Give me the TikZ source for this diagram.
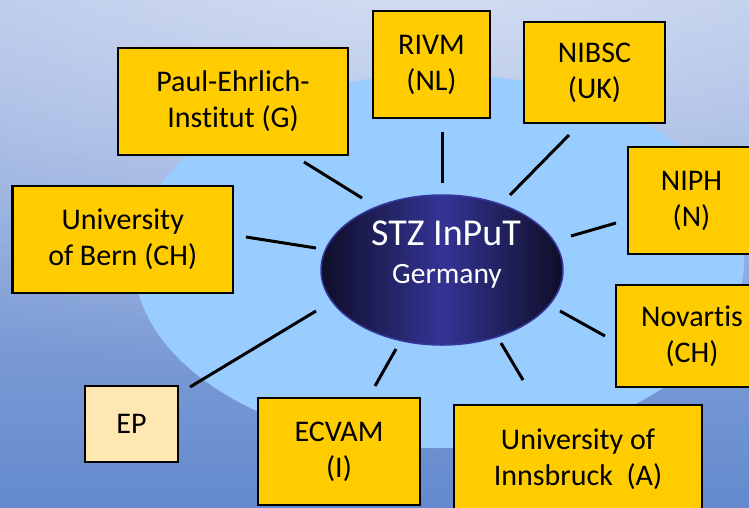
\documentclass[tikz,border=0pt]{standalone}
\usepackage{fontspec}
\setmainfont[Ligatures=NoCommon]{Carlito}
\usetikzlibrary{shapes.geometric,fadings}
\definecolor{bgtop}{RGB}{170,189,230}
\definecolor{bgbot}{RGB}{100,138,205}
\definecolor{halo}{RGB}{153,204,255}
\definecolor{boxy}{RGB}{255,204,0}
\definecolor{boxep}{RGB}{255,231,178}
\definecolor{hubedge}{RGB}{14,14,40}
\definecolor{hubmid}{RGB}{52,52,150}
\definecolor{hubrim}{RGB}{55,55,160}
\tikzfading[name=glowfade, inner color=transparent!0, outer color=transparent!100]
\begin{document}
\begin{tikzpicture}[x=1pt,y=-1pt,
  orgbox/.style={draw=black, line width=2.5pt, fill=boxy, rectangle, inner sep=0pt,
    align=center, font=\fontsize{30}{36}\selectfont},
  spoke/.style={draw=black, line width=3pt},
  hubtext/.style={text=white, inner sep=0pt, anchor=base}]
\useasboundingbox (0,0) rectangle (749,507);
\clip (0,0) rectangle (749,507);
% background
\shade[top color=bgtop, bottom color=bgbot] (0,0) rectangle (749,507);
\fill[white, opacity=0.5, path fading=glowfade] (430,-30) ellipse [x radius=900pt, y radius=420pt];
% halo
\fill[halo] (439,261) ellipse [x radius=305pt, y radius=187pt];
% hub
\node[ellipse, minimum width=242pt, minimum height=150pt, left color=hubedge,
  right color=hubedge, middle color=hubmid, draw=hubrim, line width=1.5pt] (hub) at (442,270) {};
\node[hubtext, font=\fontsize{38}{40}\selectfont] (stz) at (446,245) {STZ InPuT};
\node[hubtext, font=\fontsize{29.5}{30}\selectfont] (ger) at (447,283) {Germany};
% boxes
\node[orgbox, minimum width=230pt, minimum height=107pt] (paul) at (233,101.5) {Paul-Ehrlich-\\Institut (G)};
\node[orgbox, minimum width=117pt, minimum height=107pt] (rivm) at (431.5,64.5) {RIVM\\(NL)};
\node[orgbox, minimum width=141pt, minimum height=101pt] (nibsc) at (594.5,72.5) {NIBSC\\(UK)};
\node[orgbox, minimum width=127pt, minimum height=107pt] (niph) at (691.5,200.5) {NIPH\\(N)};
\node[orgbox, minimum width=152pt, minimum height=102pt] (novartis) at (692,336) {Novartis\\(CH)};
\node[orgbox, minimum width=248pt, minimum height=108pt] (innsbruck) at (578,459) {University of\\Innsbruck~~(A)};
\node[orgbox, minimum width=162pt, minimum height=107pt] (ecvam) at (339,451.5) {ECVAM\\(I)};
\node[orgbox, minimum width=220.6pt, minimum height=107pt] (bern) at (122.7,239.5) {University\\of Bern (CH)};
\node[orgbox, fill=boxep, minimum width=93pt, minimum height=76pt] (ep) at (131.5,424) {EP};
% spoke ends
\coordinate (p1) at (304,162); \coordinate (h1) at (362,198);
\coordinate (p2) at (442,132); \coordinate (h2) at (442,183);
\coordinate (p3) at (569,135); \coordinate (h3) at (510,195);
\coordinate (p4) at (616,223); \coordinate (h4) at (571,236);
\coordinate (p5) at (605,336); \coordinate (h5) at (560,311);
\coordinate (p6) at (523,380); \coordinate (h6) at (501,343);
\coordinate (p7) at (375,386); \coordinate (h7) at (396,349);
\coordinate (p8) at (190,387); \coordinate (h8) at (316,311);
\coordinate (p9) at (246,237); \coordinate (h9) at (316,248);
\foreach \i in {1,...,9} { \draw[spoke] (p\i) -- (h\i); }
\end{tikzpicture}
\end{document}
